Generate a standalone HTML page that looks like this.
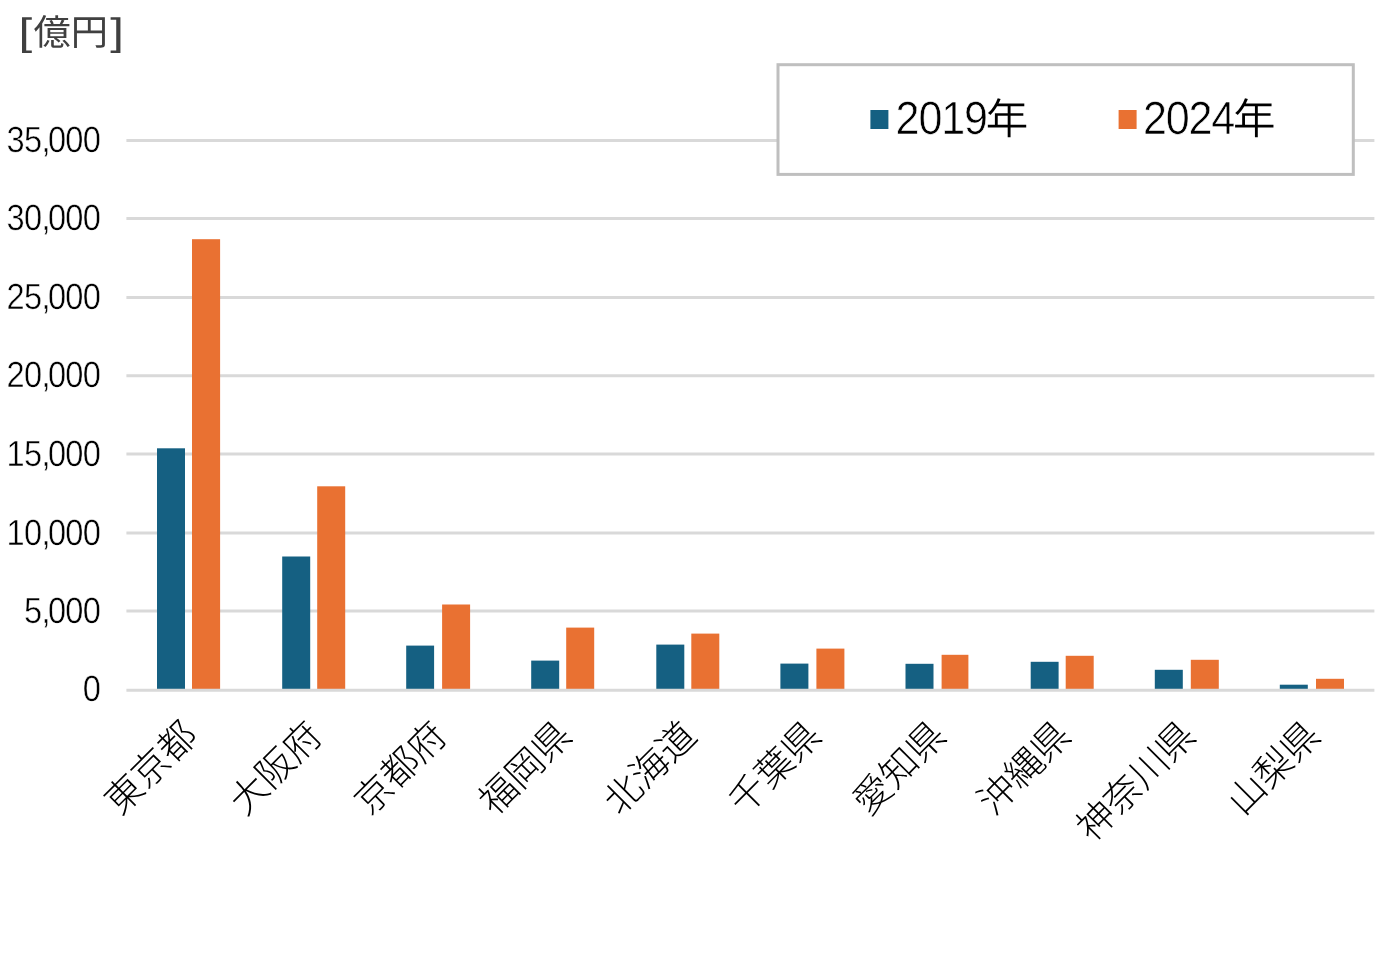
<!DOCTYPE html>
<html lang="ja">
<head>
<meta charset="utf-8">
<title>2019年 / 2024年 [億円]</title>
<style>
html,body{margin:0;padding:0;background:#fff}
body{width:1393px;height:962px;overflow:hidden}
svg{display:block}
text{font-family:"Liberation Sans","Noto Sans CJK JP",sans-serif;text-rendering:geometricPrecision}
.jp{font-weight:300}
.jp2{font-weight:350}
</style>
</head>
<body>
<svg width="1393" height="962" viewBox="0 0 1393 962">
<rect width="1393" height="962" fill="#fff"/>
<!-- gridlines -->
<g stroke="#D9D9D9" stroke-width="3" fill="none">
<line x1="126.4" y1="140.50" x2="1374.4" y2="140.50"/>
<line x1="126.4" y1="218.60" x2="1374.4" y2="218.60"/>
<line x1="126.4" y1="297.60" x2="1374.4" y2="297.60"/>
<line x1="126.4" y1="375.80" x2="1374.4" y2="375.80"/>
<line x1="126.4" y1="453.90" x2="1374.4" y2="453.90"/>
<line x1="126.4" y1="533.00" x2="1374.4" y2="533.00"/>
<line x1="126.4" y1="611.10" x2="1374.4" y2="611.10"/>
</g>
<!-- bars -->
<g>
<rect x="157.0" y="448.3" width="28.0" height="242.0" fill="#156082"/>
<rect x="192.0" y="239.2" width="28.1" height="451.1" fill="#E97132"/>
<rect x="282.2" y="556.5" width="28.0" height="133.8" fill="#156082"/>
<rect x="317.2" y="486.3" width="28.0" height="204.0" fill="#E97132"/>
<rect x="406.2" y="645.6" width="27.9" height="44.7" fill="#156082"/>
<rect x="442.1" y="604.5" width="28.0" height="85.8" fill="#E97132"/>
<rect x="531.2" y="660.6" width="28.0" height="29.7" fill="#156082"/>
<rect x="566.2" y="627.6" width="28.0" height="62.7" fill="#E97132"/>
<rect x="656.3" y="644.6" width="28.0" height="45.7" fill="#156082"/>
<rect x="691.3" y="633.6" width="28.0" height="56.7" fill="#E97132"/>
<rect x="780.4" y="663.6" width="28.0" height="26.7" fill="#156082"/>
<rect x="816.4" y="648.6" width="28.0" height="41.7" fill="#E97132"/>
<rect x="905.5" y="663.8" width="28.0" height="26.5" fill="#156082"/>
<rect x="941.6" y="654.8" width="26.8" height="35.5" fill="#E97132"/>
<rect x="1030.7" y="661.8" width="27.9" height="28.5" fill="#156082"/>
<rect x="1065.7" y="655.8" width="28.0" height="34.5" fill="#E97132"/>
<rect x="1154.8" y="669.8" width="28.0" height="20.5" fill="#156082"/>
<rect x="1190.8" y="659.8" width="28.0" height="30.5" fill="#E97132"/>
<rect x="1279.8" y="684.7" width="28.0" height="5.6" fill="#156082"/>
<rect x="1316.0" y="678.8" width="28.0" height="11.5" fill="#E97132"/>
</g>
<!-- category axis line -->
<line x1="126.4" y1="690.30" x2="1374.4" y2="690.30" stroke="#D9D9D9" stroke-width="3"/>
<!-- value axis labels -->
<g font-size="36.5" letter-spacing="-0.8" fill="#000" stroke="#fff" stroke-width="0.5" text-anchor="end">
<text transform="translate(100.2 152) scale(0.893 1)">35,<tspan dx="-2.0">000</tspan></text>
<text transform="translate(100.2 230) scale(0.893 1)">30,<tspan dx="-2.0">000</tspan></text>
<text transform="translate(100.2 309) scale(0.893 1)">25,<tspan dx="-2.0">000</tspan></text>
<text transform="translate(100.2 387) scale(0.893 1)">20,<tspan dx="-2.0">000</tspan></text>
<text transform="translate(100.2 466) scale(0.893 1)">15,<tspan dx="-2.0">000</tspan></text>
<text transform="translate(100.2 545) scale(0.893 1)">10,<tspan dx="-2.0">000</tspan></text>
<text transform="translate(100.2 623) scale(0.893 1)">5,<tspan dx="-2.0">000</tspan></text>
<text transform="translate(100.2 701) scale(0.893 1)">0</text>
</g>
<!-- unit -->
<text y="45" fill="#404040"><tspan x="18.4" font-size="38.2" textLength="13.7" lengthAdjust="spacingAndGlyphs">[</tspan><tspan x="33.4" font-size="35.8" textLength="74.5" lengthAdjust="spacingAndGlyphs">億円</tspan><tspan x="110.25" font-size="38.2" textLength="13.7" lengthAdjust="spacingAndGlyphs">]</tspan></text>
<!-- legend -->
<rect x="778" y="64.7" width="575.3" height="109.7" fill="#fff" stroke="#BFBFBF" stroke-width="3"/>
<rect x="870.4" y="110" width="18" height="19" fill="#156082"/>
<text x="895.6" y="134" font-size="46.5" fill="#000"><tspan textLength="91.2" lengthAdjust="spacingAndGlyphs" letter-spacing="-1.25" stroke="#fff" stroke-width="0.65">2019</tspan><tspan class="jp2" x="985.7" font-size="42.5">年</tspan></text>
<rect x="1118.6" y="110" width="18" height="19" fill="#E97132"/>
<text x="1142.9" y="134" font-size="46.5" fill="#000"><tspan textLength="91.2" lengthAdjust="spacingAndGlyphs" letter-spacing="-1.25" stroke="#fff" stroke-width="0.65">2024</tspan><tspan class="jp2" x="1233" font-size="42.5">年</tspan></text>
<!-- category labels -->
<g class="jp" font-size="37.3" fill="#000" text-anchor="end">
<text transform="translate(199.5 737.6) rotate(-45)">東京都</text>
<text transform="translate(324.3 737.6) rotate(-45)">大阪府</text>
<text transform="translate(449.0 737.6) rotate(-45)">京都府</text>
<text transform="translate(573.8 737.6) rotate(-45)">福岡県</text>
<text transform="translate(698.6 737.6) rotate(-45)">北海道</text>
<text transform="translate(823.4 737.6) rotate(-45)">千葉県</text>
<text transform="translate(948.1 737.6) rotate(-45)">愛知県</text>
<text transform="translate(1072.9 737.6) rotate(-45)">沖縄県</text>
<text transform="translate(1197.7 737.6) rotate(-45)">神奈川県</text>
<text transform="translate(1322.4 737.6) rotate(-45)">山梨県</text>
</g>
</svg>
</body>
</html>
